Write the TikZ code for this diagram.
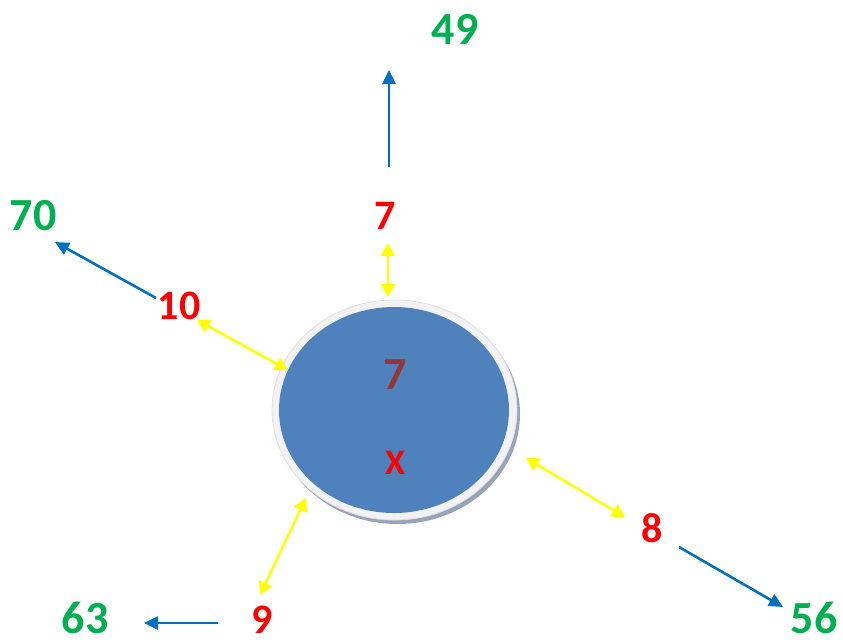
\documentclass[tikz,border=0pt]{standalone}
\usepackage{fontspec}
\setmainfont{Carlito}
\usetikzlibrary{arrows.meta,positioning}
\definecolor{NumGreen}{RGB}{0,176,80}
\definecolor{NumRed}{RGB}{255,0,0}
\definecolor{ArrBlue}{RGB}{0,112,192}
\definecolor{ArrYellow}{RGB}{255,255,0}
\definecolor{DiscBlue}{RGB}{79,129,189}
\definecolor{DiscRim}{RGB}{242,242,242}
\definecolor{DiscShadow}{RGB}{150,163,186}
\definecolor{InnerRed}{RGB}{149,55,53}

\begin{document}
\begin{tikzpicture}[x=1pt, y=-1pt,
	big/.style={font=\fontsize{46}{46}\selectfont\bfseries, text=NumGreen, inner sep=0pt},
	mid/.style={font=\fontsize{42}{42}\selectfont\bfseries, text=NumRed, inner sep=0pt},
	bluearrow/.style={ArrBlue, line width=2.6pt, -{Triangle[length=14pt,width=13pt]}},
	yellowarrow/.style={ArrYellow, line width=2.5pt, {Triangle[length=13pt,width=14pt]}-{Triangle[length=13pt,width=14pt]}}]
		\useasboundingbox (0,0) rectangle (843,641);
		
		% disc with rim and shadow
		\fill[DiscShadow] (397.5,414) ellipse [x radius=122.5, y radius=110];
		\filldraw[fill=DiscRim, draw=gray!25, line width=0.8pt] (394.5,410) ellipse [x radius=122.5, y radius=110];
		\fill[DiscBlue] (394,410) ellipse [x radius=115, y radius=103];
		\node[font=\fontsize{46}{46}\selectfont\bfseries, text=InnerRed, inner sep=0pt] (c7) at (395,375) {7};
		\node[font=\fontsize{36}{36}\selectfont\bfseries, text=NumRed, inner sep=0pt] (cx) at (395,463) {X};
		
		% numbers
		\node[big] (g49) at (455,29) {49};
		\node[big] (g70) at (33,216) {70};
		\node[big] (g63) at (85,618) {63};
		\node[big] (g56) at (814,618) {56};
		\node[mid] (r7) at (385,216) {7};
		\node[mid] (r10) at (179,306) {10};
		\node[mid] (r9) at (262,620) {9};
		\node[mid] (r8) at (652,528) {8};
		
		% arrow ends
		\coordinate (b7s) at (389,167);
		\coordinate (b7e) at (389,70);
		\coordinate (b10s) at (156,298);
		\coordinate (b10e) at (55,242);
		\coordinate (b9s) at (218,623);
		\coordinate (b9e) at (144,623);
		\coordinate (b8s) at (679,547);
		\coordinate (b8e) at (783,607);
		\coordinate (y7s) at (388,243);
		\coordinate (y7e) at (388,297);
		\coordinate (y10s) at (197,320);
		\coordinate (y10e) at (288,370);
		\coordinate (y9s) at (260,595);
		\coordinate (y9e) at (306,498);
		\coordinate (y8s) at (526,458);
		\coordinate (y8e) at (625,517);
		
		\draw[bluearrow] (b7s) -- (b7e);
		\draw[bluearrow] (b10s) -- (b10e);
		\draw[bluearrow] (b9s) -- (b9e);
		\draw[bluearrow] (b8s) -- (b8e);
		\draw[yellowarrow] (y7s) -- (y7e);
		\draw[yellowarrow] (y10s) -- (y10e);
		\draw[yellowarrow] (y9s) -- (y9e);
		\draw[yellowarrow] (y8s) -- (y8e);
	\end{tikzpicture}
\end{document}
